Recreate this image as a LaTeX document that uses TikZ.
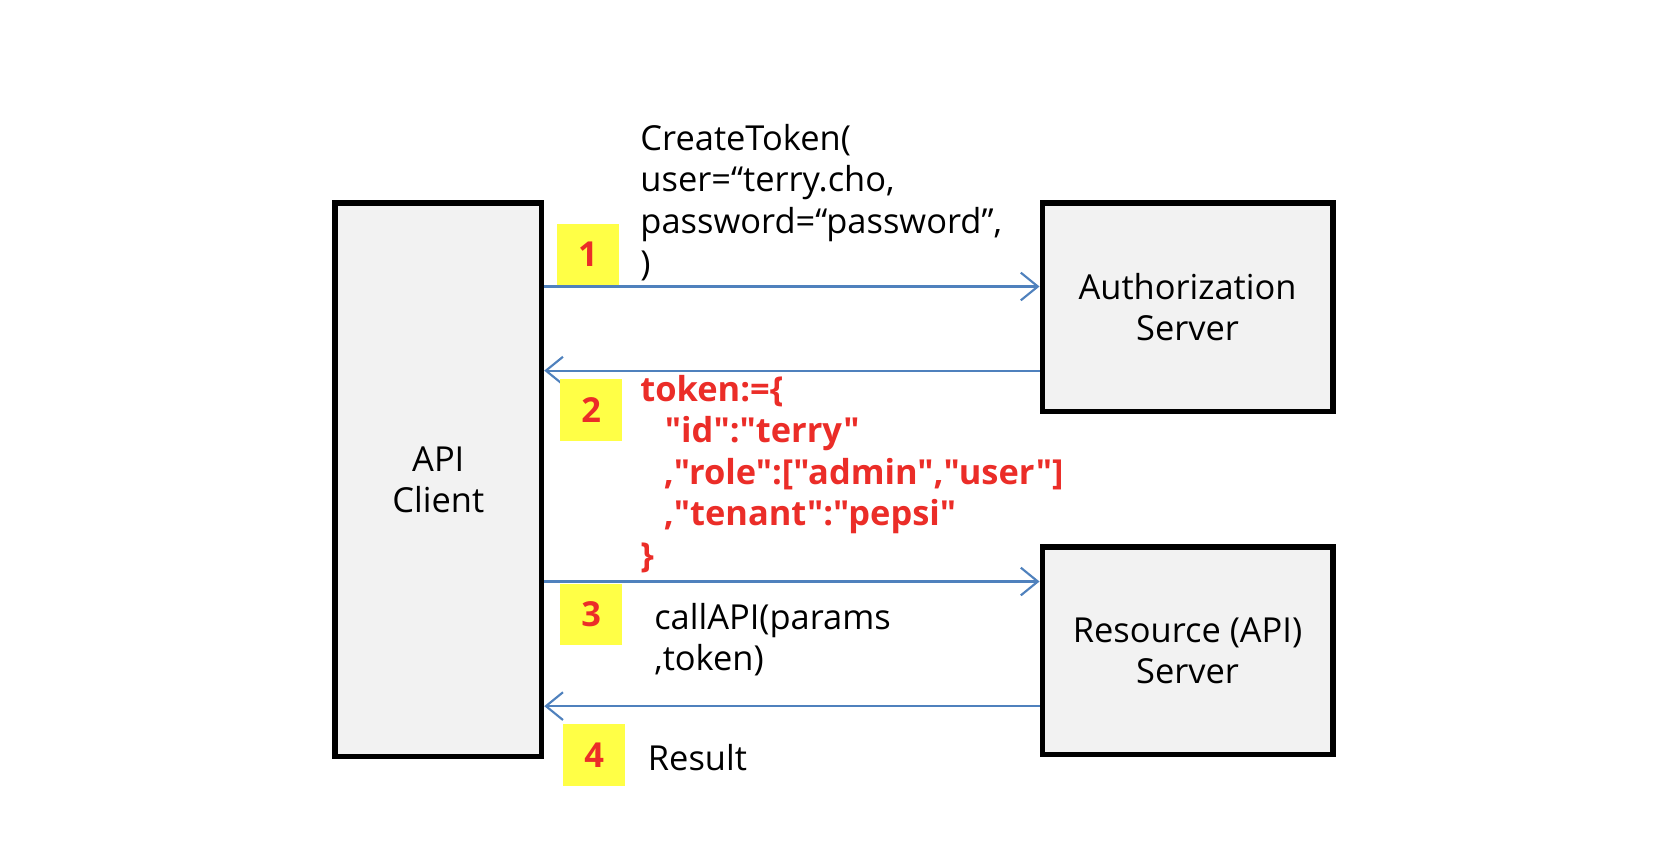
\documentclass[tikz,border=0pt]{standalone}
\usepackage{fontspec}
\setmainfont{Open Sans}[Ligatures=TeXOff]
\usepackage{xcolor}
\usetikzlibrary{arrows.meta,positioning}
\definecolor{msgblue}{RGB}{79,129,189}
\definecolor{stepred}{RGB}{235,45,40}
\definecolor{stepyellow}{RGB}{255,255,70}
\definecolor{boxgray}{RGB}{242,242,242}
\tikzset{
  party/.style={draw, line width=0.1cm, fill=boxgray, align=center, inner sep=0pt,
    font=\fontsize{18.4}{22.2}\selectfont},
  msg/.style={-{Straight Barb[length=0.32cm, width=0.52cm]}, draw=msgblue, line width=0.04cm},
  stepbox/.style={fill=stepyellow, minimum width=1.16cm, minimum height=1.16cm, inner sep=0pt,
    text=stepred, font=\fontsize{18.4}{22.2}\selectfont\bfseries},
  note/.style={align=left, anchor=west, inner sep=0pt, font=\fontsize{18.4}{22.2}\selectfont}
}
\begin{document}
\begin{tikzpicture}[x=0.02cm, y=-0.02cm]
  \useasboundingbox (0,0) rectangle (1568,794);
  % the three parties
  \node[party, minimum width=3.88cm, minimum height=10.4cm] (client) at (411.5,450.5) {API\\Client};
  \node[party, minimum width=5.46cm, minimum height=3.92cm] (auth) at (1115,288.5) {Authorization\\Server};
  \node[party, minimum width=5.46cm, minimum height=3.9cm] (res) at (1115,611) {Resource (API)\\Server};
  % message levels
  \coordinate (m1) at (0,269);
  \coordinate (m2) at (0,348);
  \coordinate (m3) at (0,546);
  \coordinate (m4) at (0,663);
  \draw[msg] (client.east |- m1) -- (auth.west |- m1);
  \draw[msg] (auth.west |- m2) -- (client.east |- m2);
  \draw[msg] (client.east |- m3) -- (res.west |- m3);
  \draw[msg] (res.west |- m4) -- (client.east |- m4);
  % step numbers
  \node[stepbox] (s1) at (552,239) {1};
  \node[stepbox] (s2) at (555,385) {2};
  \node[stepbox] (s3) at (555,577) {3};
  \node[stepbox] (s4) at (558,709) {4};
  % message texts
  \node[note] (t1) at (601,190) {CreateToken(\\user=“terry.cho,\\password=“password”,\\)};
  \node[note, text=stepred, font=\fontsize{18.4}{22.2}\selectfont\bfseries] (t2) at (601,445)
    {token:=\{\\\hspace*{0.46cm}"id":"terry"\\\hspace*{0.44cm},"role":["admin","user"]\\\hspace*{0.44cm},"tenant":"pepsi"\\\}};
  \node[note] (t3) at (614,600.5) {callAPI(params\\,token)};
  \node[note] (t4) at (608,711) {Result};
\end{tikzpicture}
\end{document}
